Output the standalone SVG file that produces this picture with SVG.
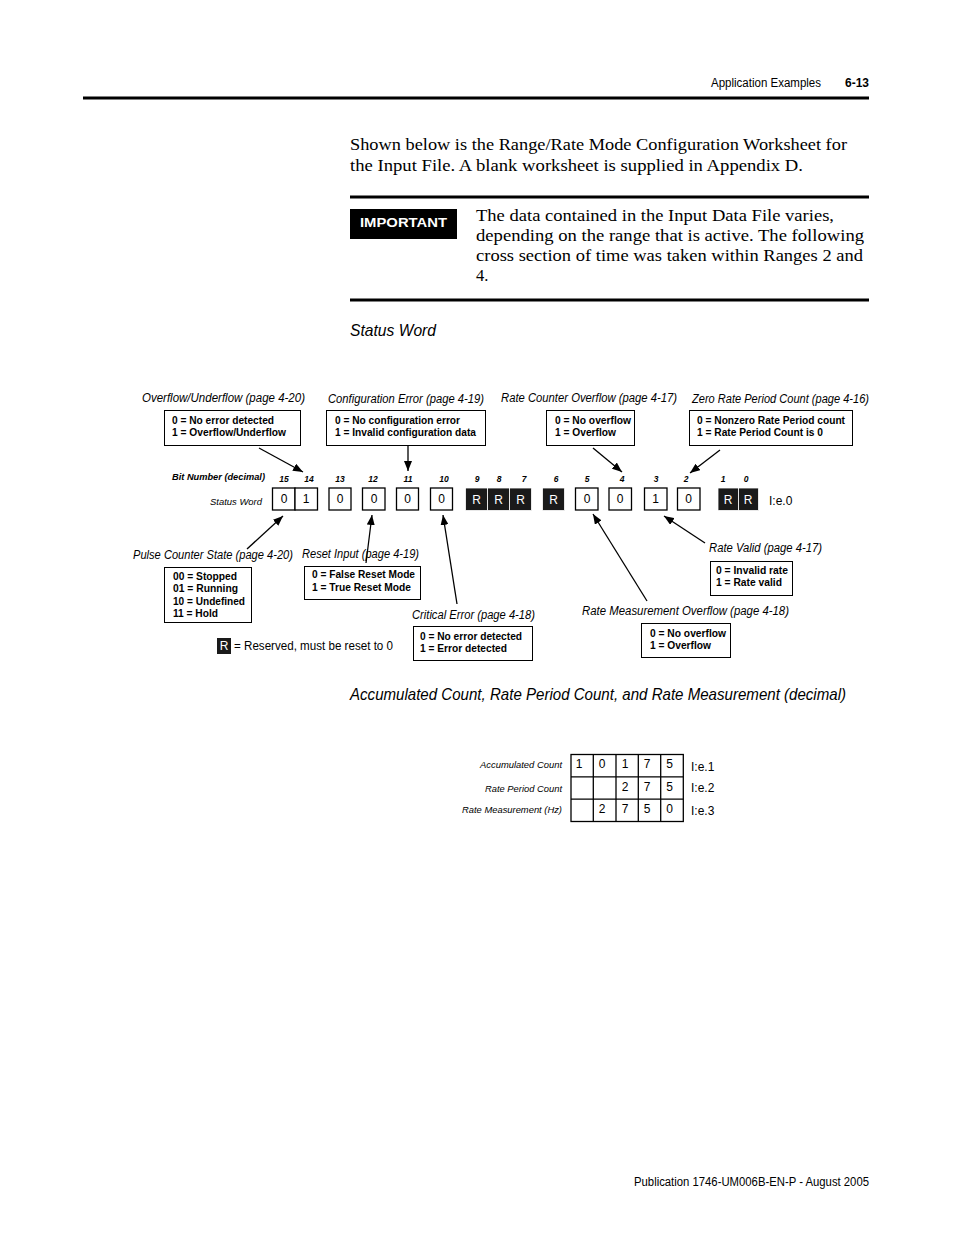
<svg xmlns="http://www.w3.org/2000/svg" width="954" height="1235" viewBox="0 0 954 1235">
<style>
.hd{font-family:"Liberation Sans Narrow","Liberation Sans",Arial,sans-serif;font-size:12px;fill:#000}
.sr{font-family:"Liberation Serif","Times New Roman",serif;font-size:16.5px;fill:#000}
.sec{font-family:"Liberation Sans Narrow","Liberation Sans",Arial,sans-serif;font-style:italic;font-size:17px;fill:#000}
.t{font-family:"Liberation Sans Narrow","Liberation Sans",Arial,sans-serif;font-style:italic;font-size:12px;fill:#000}
.b{font-family:"Liberation Sans Narrow","Liberation Sans",Arial,sans-serif;font-weight:bold;font-size:11px;fill:#000}
.bn{font-family:"Liberation Sans Narrow","Liberation Sans",Arial,sans-serif;font-weight:bold;font-style:italic;font-size:8.5px;fill:#000;text-anchor:middle}
.bl{font-family:"Liberation Sans Narrow","Liberation Sans",Arial,sans-serif;font-weight:bold;font-style:italic;font-size:8.5px;fill:#000}
.sm{font-family:"Liberation Sans Narrow","Liberation Sans",Arial,sans-serif;font-style:italic;font-size:8.5px;fill:#000}
.smr{font-family:"Liberation Sans Narrow","Liberation Sans",Arial,sans-serif;font-style:italic;font-size:8.5px;fill:#000;text-anchor:end}
.d{font-family:"Liberation Sans Narrow","Liberation Sans",Arial,sans-serif;font-size:12px;fill:#000;text-anchor:middle}
.dw{font-family:"Liberation Sans Narrow","Liberation Sans",Arial,sans-serif;font-size:12px;fill:#fff;text-anchor:middle}
.box{fill:#fff;stroke:#000;stroke-width:1}
.cell{fill:#fff;stroke:#000;stroke-width:1.3}
.rs{fill:#1a1a1a;stroke:#fff;stroke-width:0.8}
.ln{stroke:#000;stroke-width:1.3;fill:none}
</style>
<defs>
<marker id="ah" markerUnits="userSpaceOnUse" markerWidth="11" markerHeight="8" refX="10" refY="4" orient="auto">
<path d="M0,0 L10,4 L0,8 Z" fill="#000"/>
</marker>
</defs>
<rect width="954" height="1235" fill="#fff"/>

<g id="header">
<text class="hd" x="711" y="87" textLength="110" lengthAdjust="spacingAndGlyphs">Application Examples</text>
<text class="hd" x="845" y="87" font-weight="bold" textLength="24" lengthAdjust="spacingAndGlyphs">6-13</text>
<rect x="83" y="96.5" width="786" height="3" fill="#000"/>
</g>

<g id="intro">
<text class="sr" x="350" y="150" textLength="497" lengthAdjust="spacingAndGlyphs">Shown below is the Range/Rate Mode Configuration Worksheet for</text>
<text class="sr" x="350" y="171" textLength="453" lengthAdjust="spacingAndGlyphs">the Input File. A blank worksheet is supplied in Appendix D.</text>
</g>

<g id="important">
<rect x="350" y="195.5" width="519" height="3" fill="#000"/>
<rect x="350" y="209" width="107" height="30" fill="#000"/>
<text x="403.5" y="227" font-family="Liberation Sans Narrow, Liberation Sans, Arial, sans-serif" font-weight="bold" font-size="13.5px" fill="#fff" text-anchor="middle" textLength="87" lengthAdjust="spacingAndGlyphs">IMPORTANT</text>
<text class="sr" x="476" y="221" textLength="358" lengthAdjust="spacingAndGlyphs">The data contained in the Input Data File varies,</text>
<text class="sr" x="476" y="241" textLength="388" lengthAdjust="spacingAndGlyphs">depending on the range that is active. The following</text>
<text class="sr" x="476" y="261" textLength="387" lengthAdjust="spacingAndGlyphs">cross section of time was taken within Ranges 2 and</text>
<text class="sr" x="476" y="281">4.</text>
<rect x="350" y="298.5" width="519" height="3" fill="#000"/>
</g>

<text class="sec" x="350" y="336" textLength="86" lengthAdjust="spacingAndGlyphs">Status Word</text>

<g id="connectors">
<line class="ln" x1="259" y1="448" x2="303" y2="472" marker-end="url(#ah)"/>
<line class="ln" x1="408" y1="445" x2="408" y2="471" marker-end="url(#ah)"/>
<line class="ln" x1="593" y1="448" x2="622" y2="472" marker-end="url(#ah)"/>
<line class="ln" x1="720" y1="450" x2="690" y2="473" marker-end="url(#ah)"/>
<line class="ln" x1="247" y1="549" x2="283" y2="516" marker-end="url(#ah)"/>
<line class="ln" x1="366" y1="563" x2="372" y2="515" marker-end="url(#ah)"/>
<line class="ln" x1="457" y1="604" x2="443" y2="515" marker-end="url(#ah)"/>
<line class="ln" x1="647" y1="601" x2="593" y2="514" marker-end="url(#ah)"/>
<line class="ln" x1="705" y1="543" x2="664" y2="516" marker-end="url(#ah)"/>
</g>

<g id="overflow-underflow">
<text class="t" x="142" y="402" textLength="163" lengthAdjust="spacingAndGlyphs">Overflow/Underflow (page 4-20)</text>
<rect class="box" x="164.5" y="410.5" width="136" height="35"/>
<text class="b" x="172" y="424" textLength="102" lengthAdjust="spacingAndGlyphs">0 = No error detected</text>
<text class="b" x="172" y="436" textLength="114" lengthAdjust="spacingAndGlyphs">1 = Overflow/Underflow</text>
</g>

<g id="configuration-error">
<text class="t" x="328" y="403" textLength="156" lengthAdjust="spacingAndGlyphs">Configuration Error (page 4-19)</text>
<rect class="box" x="326.5" y="410.5" width="159" height="35"/>
<text class="b" x="335" y="424" textLength="125" lengthAdjust="spacingAndGlyphs">0 = No configuration error</text>
<text class="b" x="335" y="436" textLength="141" lengthAdjust="spacingAndGlyphs">1 = Invalid configuration data</text>
</g>

<g id="rate-counter-overflow">
<text class="t" x="501" y="402" textLength="176" lengthAdjust="spacingAndGlyphs">Rate Counter Overflow (page 4-17)</text>
<rect class="box" x="546.5" y="410.5" width="88" height="35"/>
<text class="b" x="555" y="424" textLength="76" lengthAdjust="spacingAndGlyphs">0 = No overflow</text>
<text class="b" x="555" y="436" textLength="61" lengthAdjust="spacingAndGlyphs">1 = Overflow</text>
</g>

<g id="zero-rate-period-count">
<text class="t" x="692" y="403" textLength="177" lengthAdjust="spacingAndGlyphs">Zero Rate Period Count (page 4-16)</text>
<rect class="box" x="689.5" y="410.5" width="163" height="35"/>
<text class="b" x="697" y="424" textLength="148" lengthAdjust="spacingAndGlyphs">0 = Nonzero Rate Period count</text>
<text class="b" x="697" y="436" textLength="126" lengthAdjust="spacingAndGlyphs">1 = Rate Period Count is 0</text>
</g>

<g id="status-word">
<text class="bl" x="172" y="480" textLength="93" lengthAdjust="spacingAndGlyphs">Bit Number (decimal)</text>
<text class="sm" x="210" y="505" textLength="52" lengthAdjust="spacingAndGlyphs">Status Word</text>
<text class="bn" x="284" y="482">15</text>
<text class="bn" x="309" y="482">14</text>
<text class="bn" x="340" y="482">13</text>
<text class="bn" x="373" y="482">12</text>
<text class="bn" x="408" y="482">11</text>
<text class="bn" x="444" y="482">10</text>
<text class="bn" x="477" y="482">9</text>
<text class="bn" x="499" y="482">8</text>
<text class="bn" x="524" y="482">7</text>
<text class="bn" x="556" y="482">6</text>
<text class="bn" x="587" y="482">5</text>
<text class="bn" x="622" y="482">4</text>
<text class="bn" x="656" y="482">3</text>
<text class="bn" x="686" y="482">2</text>
<text class="bn" x="723" y="482">1</text>
<text class="bn" x="746" y="482">0</text>

<rect class="cell" x="272.5" y="488" width="22.5" height="22"/>
<rect class="cell" x="295" y="488" width="22.5" height="22"/>
<rect class="cell" x="329" y="488" width="22" height="22"/>
<rect class="cell" x="362.5" y="488" width="22.5" height="22"/>
<rect class="cell" x="396.5" y="488" width="22" height="22"/>
<rect class="cell" x="430.5" y="488" width="22" height="22"/>
<rect class="rs" x="465.5" y="488" width="22" height="22.5"/>
<rect class="rs" x="487.5" y="488" width="22" height="22.5"/>
<rect class="rs" x="509.5" y="488" width="22" height="22.5"/>
<rect class="rs" x="542.5" y="488" width="22" height="22.5"/>
<rect class="cell" x="575.5" y="488" width="22.5" height="22"/>
<rect class="cell" x="609" y="488" width="22.5" height="22"/>
<rect class="cell" x="644.5" y="488" width="22.5" height="22"/>
<rect class="cell" x="677.5" y="488" width="22.5" height="22"/>
<rect class="rs" x="718" y="488" width="20.5" height="22.5"/>
<rect class="rs" x="738.5" y="488" width="20" height="22.5"/>

<text class="d" x="284" y="503">0</text>
<text class="d" x="306" y="503">1</text>
<text class="d" x="340" y="503">0</text>
<text class="d" x="374" y="503">0</text>
<text class="d" x="407.5" y="503">0</text>
<text class="d" x="441.5" y="503">0</text>
<text class="dw" x="476.5" y="504">R</text>
<text class="dw" x="498.5" y="504">R</text>
<text class="dw" x="520.5" y="504">R</text>
<text class="dw" x="553.5" y="504">R</text>
<text class="d" x="587" y="503">0</text>
<text class="d" x="620" y="503">0</text>
<text class="d" x="655.5" y="503">1</text>
<text class="d" x="688.5" y="503">0</text>
<text class="dw" x="728" y="504">R</text>
<text class="dw" x="748" y="504">R</text>
<text class="hd" x="769" y="505" font-size="11.5px">I:e.0</text>
</g>

<g id="pulse-counter-state">
<text class="t" x="133" y="559" textLength="160" lengthAdjust="spacingAndGlyphs">Pulse Counter State (page 4-20)</text>
<rect class="box" x="164.5" y="567.5" width="87" height="55"/>
<text class="b" x="173" y="580" textLength="64" lengthAdjust="spacingAndGlyphs">00 = Stopped</text>
<text class="b" x="173" y="592" textLength="65" lengthAdjust="spacingAndGlyphs">01 = Running</text>
<text class="b" x="173" y="605" textLength="72" lengthAdjust="spacingAndGlyphs">10 = Undefined</text>
<text class="b" x="173" y="617" textLength="45" lengthAdjust="spacingAndGlyphs">11 = Hold</text>
</g>

<g id="reset-input">
<text class="t" x="302" y="558" textLength="117" lengthAdjust="spacingAndGlyphs">Reset Input (page 4-19)</text>
<rect class="box" x="304.5" y="566.5" width="116" height="33"/>
<text class="b" x="312" y="578" textLength="103" lengthAdjust="spacingAndGlyphs">0 = False Reset Mode</text>
<text class="b" x="312" y="591" textLength="99" lengthAdjust="spacingAndGlyphs">1 = True Reset Mode</text>
</g>

<g id="critical-error">
<text class="t" x="412" y="619" textLength="123" lengthAdjust="spacingAndGlyphs">Critical Error (page 4-18)</text>
<rect class="box" x="413.5" y="626.5" width="119" height="34"/>
<text class="b" x="420" y="640" textLength="102" lengthAdjust="spacingAndGlyphs">0 = No error detected</text>
<text class="b" x="420" y="652" textLength="87" lengthAdjust="spacingAndGlyphs">1 = Error detected</text>
</g>

<g id="rate-measurement-overflow">
<text class="t" x="582" y="615" textLength="207" lengthAdjust="spacingAndGlyphs">Rate Measurement Overflow (page 4-18)</text>
<rect class="box" x="641.5" y="623.5" width="89" height="34"/>
<text class="b" x="650" y="637" textLength="76" lengthAdjust="spacingAndGlyphs">0 = No overflow</text>
<text class="b" x="650" y="649" textLength="61" lengthAdjust="spacingAndGlyphs">1 = Overflow</text>
</g>

<g id="rate-valid">
<text class="t" x="709" y="552" textLength="113" lengthAdjust="spacingAndGlyphs">Rate Valid (page 4-17)</text>
<rect class="box" x="710.5" y="561.5" width="82" height="34"/>
<text class="b" x="716" y="574" textLength="72" lengthAdjust="spacingAndGlyphs">0 = Invalid rate</text>
<text class="b" x="716" y="586" textLength="66" lengthAdjust="spacingAndGlyphs">1 = Rate valid</text>
</g>

<g id="legend">
<rect x="217" y="638" width="14" height="16" fill="#1a1a1a"/>
<text class="dw" x="224" y="650" font-size="11px">R</text>
<text class="hd" x="234" y="650" textLength="159" lengthAdjust="spacingAndGlyphs">= Reserved, must be reset to 0</text>
</g>

<text class="sec" x="350" y="700" textLength="496" lengthAdjust="spacingAndGlyphs">Accumulated Count, Rate Period Count, and Rate Measurement (decimal)</text>

<g id="counts-table">
<text class="smr" x="562" y="768" textLength="82" lengthAdjust="spacingAndGlyphs">Accumulated Count</text>
<text class="smr" x="562" y="792" textLength="77" lengthAdjust="spacingAndGlyphs">Rate Period Count</text>
<text class="smr" x="562" y="813" textLength="100" lengthAdjust="spacingAndGlyphs">Rate Measurement (Hz)</text>
<rect x="571" y="754.5" width="112.3" height="67" fill="#fff" stroke="#000" stroke-width="1.3"/>
<line class="ln" x1="593.3" y1="754.5" x2="593.3" y2="821.5"/>
<line class="ln" x1="616" y1="754.5" x2="616" y2="821.5"/>
<line class="ln" x1="638.3" y1="754.5" x2="638.3" y2="821.5"/>
<line class="ln" x1="660.7" y1="754.5" x2="660.7" y2="821.5"/>
<line class="ln" x1="571" y1="776.8" x2="683.3" y2="776.8"/>
<line class="ln" x1="571" y1="799.2" x2="683.3" y2="799.2"/>
<text class="d" x="579" y="768">1</text>
<text class="d" x="602" y="768">0</text>
<text class="d" x="625" y="768">1</text>
<text class="d" x="647" y="768">7</text>
<text class="d" x="669.5" y="768">5</text>
<text class="d" x="625" y="791">2</text>
<text class="d" x="647" y="791">7</text>
<text class="d" x="669.5" y="791">5</text>
<text class="d" x="602" y="813">2</text>
<text class="d" x="625" y="813">7</text>
<text class="d" x="647" y="813">5</text>
<text class="d" x="669.5" y="813">0</text>
<text class="hd" x="691" y="771" font-size="11.5px">I:e.1</text>
<text class="hd" x="691" y="792" font-size="11.5px">I:e.2</text>
<text class="hd" x="691" y="815" font-size="11.5px">I:e.3</text>
</g>

<g id="footer">
<text class="hd" x="634" y="1186" textLength="235" lengthAdjust="spacingAndGlyphs">Publication 1746-UM006B-EN-P - August 2005</text>
</g>
</svg>
